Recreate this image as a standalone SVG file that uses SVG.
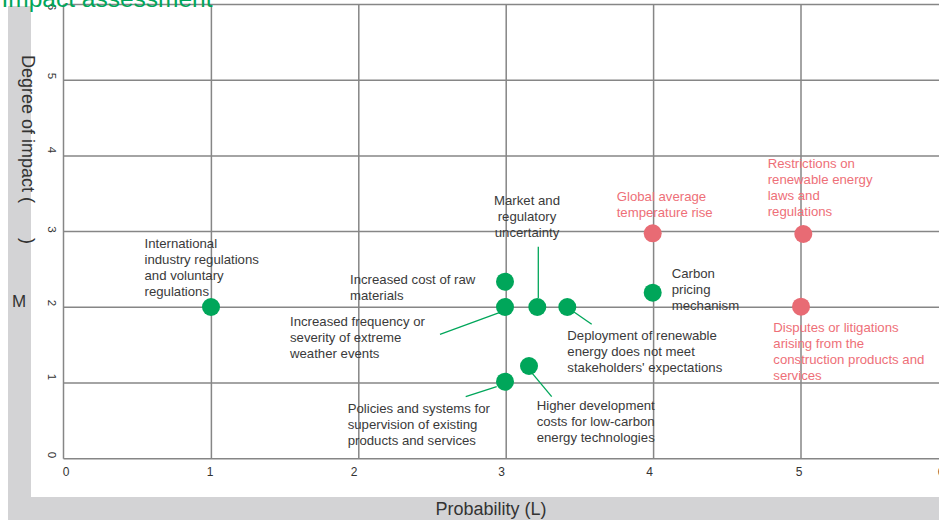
<svg xmlns="http://www.w3.org/2000/svg" width="939" height="520" viewBox="0 0 939 520">
  <style>
    .grid { stroke: #868686; stroke-width: 1.5; fill: none; }
    .band { fill: #d3d3d5; }
    .tick { font-family: "Liberation Sans", Arial, sans-serif; font-size: 11.5px; fill: #333; }
    .axis { font-family: "Liberation Sans", Arial, sans-serif; font-size: 18px; fill: #333; }
    .title { font-family: "Liberation Sans", Arial, sans-serif; font-size: 24.5px; fill: #00a65a; }
    .lbl { font-family: "Liberation Sans", Arial, sans-serif; font-size: 13.2px; fill: #3a3a3a; }
    .lbl-red { font-family: "Liberation Sans", Arial, sans-serif; font-size: 13.2px; fill: #ee6f78; }
    .dot-g { fill: #00a65a; }
    .dot-r { fill: #e86b74; }
    .conn { stroke: #00a65a; stroke-width: 1.3; fill: none; }
  </style>

  <rect width="939" height="520" fill="#ffffff"/>

  <!-- axis title bands -->
  <rect class="band" x="8" y="6" width="23" height="492"/>
  <rect class="band" x="8" y="497" width="931" height="23"/>

  <!-- grid -->
  <g id="grid">
    <path class="grid" d="M63.5 4.5V458.7M211.4 4.5V458.7M358.8 4.5V458.7M506.2 4.5V458.7M653.6 4.5V458.7M801 4.5V458.7"/>
    <path class="grid" d="M63.5 4.5H939M63.5 80.2H939M63.5 155.9H939M63.5 231.6H939M63.5 307.3H939M63.5 383H939M63.5 458.7H939"/>
  </g>

  <!-- y ticks (rotated) -->
  <g id="y-ticks" class="tick" text-anchor="middle">
    <text transform="translate(47.5,455) rotate(90)">0</text>
    <text transform="translate(47.5,377) rotate(90)">1</text>
    <text transform="translate(47.5,303) rotate(90)">2</text>
    <text transform="translate(47.5,229.5) rotate(90)">3</text>
    <text transform="translate(47.5,150) rotate(90)">4</text>
    <text transform="translate(47.5,76) rotate(90)">5</text>
    <text transform="translate(47.5,7) rotate(90)">6</text>
  </g>

  <!-- x ticks -->
  <g id="x-ticks" class="tick" text-anchor="middle" style="font-size:12px">
    <text x="66" y="476">0</text>
    <text x="210" y="476">1</text>
    <text x="354" y="476">2</text>
    <text x="501.7" y="476">3</text>
    <text x="649.5" y="476">4</text>
    <text x="799" y="476">5</text>
    <text x="941" y="476">6</text>
  </g>

  <!-- axis titles -->
  <text class="axis" x="491" y="514.5" text-anchor="middle">Probability (L)</text>
  <text class="axis" transform="translate(22,55) rotate(90)">Degree of impact (</text>
  <text class="axis" transform="translate(22,238) rotate(90)">)</text>
  <text class="axis" x="19" y="307" text-anchor="middle" style="font-size:17px">M</text>

  <text class="title" x="1.5" y="7">Impact assessment</text>

  <!-- connectors -->
  <g id="connectors">
    <path class="conn" d="M538.3 246.7V298"/>
    <path class="conn" d="M574 312L591.7 324.3"/>
    <path class="conn" d="M440 334.3L499.3 312.7"/>
    <path class="conn" d="M465.7 396.7L496.7 386.7"/>
    <path class="conn" d="M532.3 373.3L551.7 396.7"/>
  </g>

  <!-- risk points -->
  <g id="n-international">
    <circle class="dot-g" cx="211" cy="307" r="9"/>
    <text class="lbl" x="144.5" y="248">International<tspan x="144.5" dy="16">industry regulations</tspan><tspan x="144.5" dy="16">and voluntary</tspan><tspan x="144.5" dy="16">regulations</tspan></text>
  </g>
  <g id="n-raw-materials">
    <circle class="dot-g" cx="505" cy="281.7" r="9"/>
    <text class="lbl" x="350" y="283.5">Increased cost of raw<tspan x="350" dy="16">materials</tspan></text>
  </g>
  <g id="n-extreme-weather">
    <circle class="dot-g" cx="505" cy="307" r="9"/>
    <text class="lbl" x="290" y="326">Increased frequency or<tspan x="290" dy="16">severity of extreme</tspan><tspan x="290" dy="16">weather events</tspan></text>
  </g>
  <g id="n-market">
    <circle class="dot-g" cx="537.3" cy="307" r="9"/>
    <text class="lbl" x="527" y="205" text-anchor="middle">Market and<tspan x="527" dy="16">regulatory</tspan><tspan x="527" dy="16">uncertainty</tspan></text>
  </g>
  <g id="n-renewable-deployment">
    <circle class="dot-g" cx="567.3" cy="307" r="9"/>
    <text class="lbl" x="567.3" y="340">Deployment of renewable<tspan x="567.3" dy="16">energy does not meet</tspan><tspan x="567.3" dy="16">stakeholders' expectations</tspan></text>
  </g>
  <g id="n-policies">
    <circle class="dot-g" cx="505" cy="381.7" r="9"/>
    <text class="lbl" x="347.7" y="412.5">Policies and systems for<tspan x="347.7" dy="16">supervision of existing</tspan><tspan x="347.7" dy="16">products and services</tspan></text>
  </g>
  <g id="n-low-carbon-costs">
    <circle class="dot-g" cx="529" cy="366" r="9"/>
    <text class="lbl" x="536.7" y="409.5">Higher development<tspan x="536.7" dy="16">costs for low-carbon</tspan><tspan x="536.7" dy="16">energy technologies</tspan></text>
  </g>
  <g id="n-carbon-pricing">
    <circle class="dot-g" cx="652.7" cy="292.7" r="9"/>
    <text class="lbl" x="671.7" y="278">Carbon<tspan x="671.7" dy="16">pricing</tspan><tspan x="671.7" dy="16">mechanism</tspan></text>
  </g>
  <g id="n-temperature">
    <circle class="dot-r" cx="652.7" cy="233.3" r="9"/>
    <text class="lbl-red" x="616.7" y="201">Global average<tspan x="616.7" dy="16">temperature rise</tspan></text>
  </g>
  <g id="n-renewable-laws">
    <circle class="dot-r" cx="803.3" cy="234" r="9"/>
    <text class="lbl-red" x="767.7" y="167.5">Restrictions on<tspan x="767.7" dy="16">renewable energy</tspan><tspan x="767.7" dy="16">laws and</tspan><tspan x="767.7" dy="16">regulations</tspan></text>
  </g>
  <g id="n-disputes">
    <circle class="dot-r" cx="801" cy="306.7" r="9"/>
    <text class="lbl-red" x="773.3" y="331.5">Disputes or litigations<tspan x="773.3" dy="16">arising from the</tspan><tspan x="773.3" dy="16">construction products and</tspan><tspan x="773.3" dy="16">services</tspan></text>
  </g>
</svg>
